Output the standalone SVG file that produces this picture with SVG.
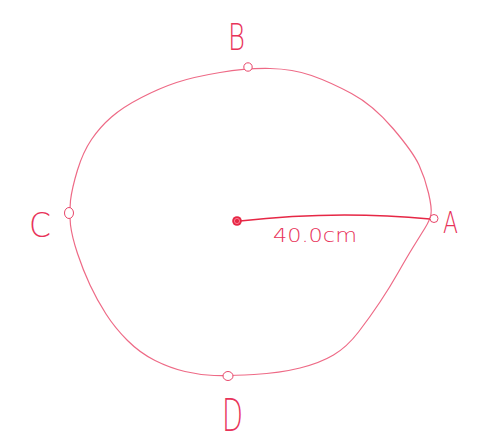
<svg xmlns="http://www.w3.org/2000/svg" width="486" height="447" viewBox="0 0 486 447">
<style>
.lbl{font-family:"DejaVu Sans","Liberation Sans",sans-serif;font-weight:200;fill:#e8335a;text-anchor:middle}
.pt{fill:#ffffff;stroke:#e8476a;stroke-width:1}
.outline{fill:none;stroke:#ee6a86;stroke-width:1.2;stroke-linejoin:round}
.radius{fill:none;stroke:#e62745;stroke-width:1.5;stroke-linecap:round}
</style>
<rect width="486" height="447" fill="#ffffff"/>
<g id="circle-outline">
<path class="outline" d="M270,68.5 Q293,69 311.5,75.5 Q330,82 351.5,93.5 Q373,105 393,128.5 Q413,152 419,165 Q425,178 428.5,193 Q432,208 431,214 Q430,220 425,228 Q420,236 413.5,246.5 Q407,257 398.5,272 Q390,287 380,302 Q370,317 358.5,332 Q347,347 333.5,355 Q320,363 300,368 Q280,373 254,374.5 Q228,376 214,375.5 Q200,375 185,371.5 Q170,368 155,360.5 Q140,353 127.5,340.5 Q115,328 106,314 Q97,300 90,285 Q83,270 77.5,253.5 Q72,237 70.5,225 Q69,213 70.5,200.5 Q72,188 77.5,170 Q83,152 91.5,139.5 Q100,127 111.5,117 Q123,107 141.5,97.5 Q160,88 176.5,82.5 Q193,77 220,72.5 Q247,68 270,68.5 Z"/>
</g>
<g id="connectors">
<path class="radius" d="M240,221 Q335,210 430,219"/>
<text class="lbl" x="315" y="242" font-size="19" textLength="84" lengthAdjust="spacingAndGlyphs">40.0cm</text>
</g>
<g id="center">
<circle cx="237" cy="221" r="4.8" fill="#e62745"/>
<circle cx="237" cy="221" r="2.6" fill="none" stroke="#ff8fa3" stroke-width="0.8"/>
</g>
<g id="A">
<circle class="pt" cx="434" cy="218.5" r="4"/>
<text class="lbl" x="450.5" y="233" font-size="31" textLength="15" lengthAdjust="spacingAndGlyphs">A</text>
</g>
<g id="B">
<circle class="pt" cx="248" cy="67" r="4.2"/>
<text class="lbl" x="236.5" y="50" font-size="38" textLength="17" lengthAdjust="spacingAndGlyphs">B</text>
</g>
<g id="C">
<ellipse class="pt" cx="69" cy="213" rx="4.5" ry="5.5"/>
<text class="lbl" x="40" y="237" font-size="33" textLength="22" lengthAdjust="spacingAndGlyphs">C</text>
</g>
<g id="D">
<ellipse class="pt" cx="228" cy="376" rx="5" ry="4.5"/>
<text class="lbl" x="232.5" y="431" font-size="45" textLength="21" lengthAdjust="spacingAndGlyphs">D</text>
</g>
</svg>
